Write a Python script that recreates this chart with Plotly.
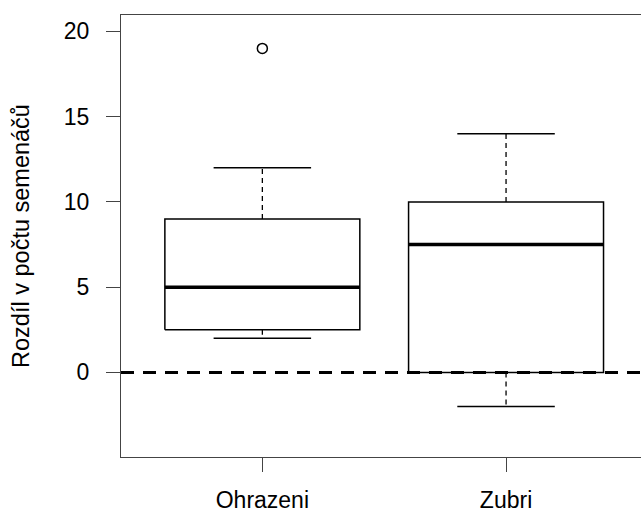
import plotly.graph_objects as go

groups = ["Ohrazeni", "Zubri"]
lower_whisker = [2, -2]
q1 = [2.5, 0]
median = [5, 7.5]
q3 = [9, 10]
upper_whisker = [12, 14]
outliers = [[19], []]
y_ticks = [0, 5, 10, 15, 20]
y_title = "Rozdíl v počtu semenáčů"

FONT = "Liberation Sans, Arial, sans-serif"
BOX_HALF = 0.4
STAPLE_HALF = 0.2

fig = go.Figure()
for i, g in enumerate(groups):
    x = i + 1
    # whiskers (dashed)
    fig.add_trace(go.Scatter(x=[x, x, None, x, x], y=[q3[i], upper_whisker[i], None, q1[i], lower_whisker[i]],
                             mode="lines", line=dict(color="black", width=1.3, dash="5px,4px"),
                             hoverinfo="skip", showlegend=False))
    # staples
    fig.add_trace(go.Scatter(x=[x - STAPLE_HALF, x + STAPLE_HALF, None, x - STAPLE_HALF, x + STAPLE_HALF],
                             y=[upper_whisker[i], upper_whisker[i], None, lower_whisker[i], lower_whisker[i]],
                             mode="lines", line=dict(color="black", width=1.5),
                             hoverinfo="skip", showlegend=False))
    # box
    fig.add_trace(go.Scatter(x=[x - BOX_HALF, x + BOX_HALF, x + BOX_HALF, x - BOX_HALF, x - BOX_HALF],
                             y=[q1[i], q1[i], q3[i], q3[i], q1[i]],
                             mode="lines", line=dict(color="black", width=1.5),
                             hoverinfo="skip", showlegend=False))
    # median
    fig.add_trace(go.Scatter(x=[x - BOX_HALF, x + BOX_HALF], y=[median[i], median[i]],
                             mode="lines", line=dict(color="black", width=3.5),
                             hoverinfo="skip", showlegend=False))
    if outliers[i]:
        fig.add_trace(go.Scatter(x=[x] * len(outliers[i]), y=outliers[i], mode="markers",
                                 marker=dict(symbol="circle-open", size=10, color="black",
                                             line=dict(width=1.5, color="black")),
                                 hoverinfo="skip", showlegend=False))

fig.add_shape(type="line", xref="paper", x0=0, x1=1, yref="y", y0=0, y1=0,
              line=dict(color="black", width=3, dash="13px,9px"), layer="above")

fig.update_layout(
    width=641, height=511,
    margin=dict(l=121, r=0, t=15, b=54),
    paper_bgcolor="white", plot_bgcolor="white",
    font=dict(family=FONT, size=23, color="black"),
    showlegend=False,
)
fig.update_xaxes(range=[0.42, 0.42 + 520 / 243.7], tickmode="array", tickvals=[1, 2], ticktext=groups,
                 showgrid=False, zeroline=False, showline=True, linecolor="#444", linewidth=1.3,
                 mirror=True, ticks="outside", ticklen=14, tickcolor="#444", tickwidth=1.3,
                 tickfont=dict(size=23), ticklabelstandoff=8, automargin=False)
fig.update_yaxes(range=[-4.96, 20.96], tickmode="array", tickvals=y_ticks,
                 showgrid=False, zeroline=False, showline=True, linecolor="#444", linewidth=1.3,
                 ticks="outside", ticklen=14, tickcolor="#444", tickwidth=1.3,
                 tickfont=dict(size=23), ticklabelstandoff=12, automargin=False,
                 title=dict(text=y_title, font=dict(size=23.5), standoff=27))

fig.write_html("out.html", config={"displayModeBar": False},
               post_script="document.body.style.margin='0';")
